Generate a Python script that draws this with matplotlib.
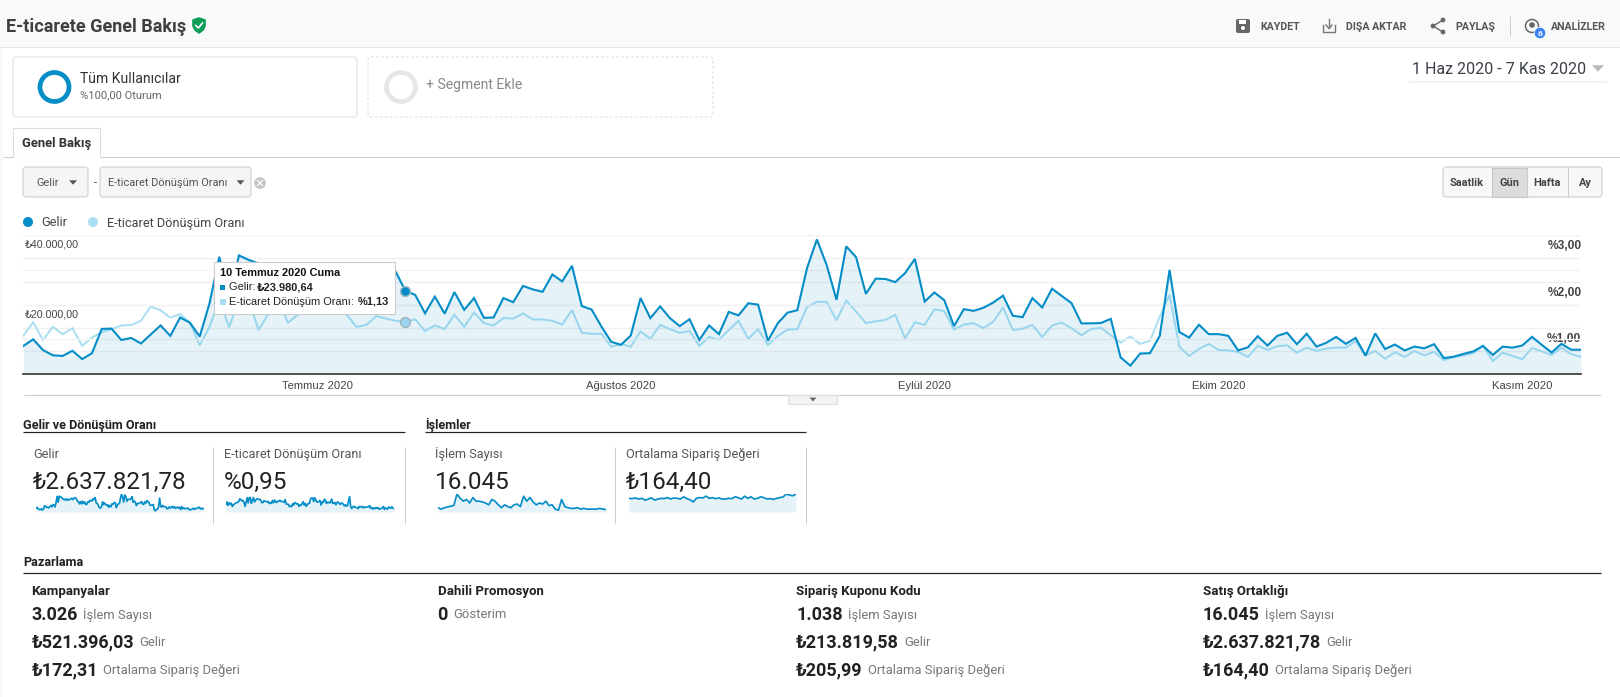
import numpy as np
import matplotlib
matplotlib.use('Agg')
import matplotlib.pyplot as plt
from matplotlib.patches import FancyBboxPatch, Rectangle, Circle, Polygon

plt.rcParams['font.family'] = ['Roboto', 'DejaVu Sans']

# daily values, 1 Jun - 7 Nov 2020
gelir = [8100, 10000, 6900, 5400, 5200, 6700, 4300, 6000, 13000, 13100,
         9800, 10400, 8800, 11400, 14000, 11000, 16300, 14800, 10800, 20400,
         33800, 21300, 34200, 32900, 31900, 29500, 27100, 26200, 28600, 25200,
         27600, 25700, 27100, 28600, 29500, 26600, 30000, 31000, 29500, 23980.64,
         22800, 17500, 22300, 17400, 23600, 18500, 21900, 16200, 16300, 21900,
         20700, 25400, 24400, 23700, 28700, 26700, 31200, 19600, 18600, 13700,
         9300, 8400, 11100, 21900, 16100, 19500, 16100, 13800, 15800, 9800,
         14000, 11500, 17900, 16900, 20400, 20000, 9600, 14600, 17700, 18400,
         30600, 38800, 31400, 21400, 36800, 33700, 23100, 27500, 27400, 26500,
         29100, 33200, 20900, 23500, 21300, 13800, 18700, 18200, 19100, 20600,
         22600, 16800, 16400, 21900, 19200, 24600, 22500, 20400, 14600, 14600,
         14700, 15900, 4800, 2400, 5900, 6000, 11000, 30000, 12100, 10500,
         14200, 11500, 11500, 11000, 6800, 7700, 10900, 8200, 11000, 11900,
         8600, 11600, 7900, 9000, 10700, 8700, 10400, 5300, 11700, 7200,
         8500, 6800, 7900, 7400, 8600, 4600, 5000, 5800, 6500, 8100,
         5500, 7900, 7600, 8200, 10700, 8400, 6200, 8700, 7000, 7000]

donusum = [.83, 1.12, .73, 1.02, .86, .99, .61, .79, .90, .97,
           1.05, 1.06, 1.15, 1.46, 1.38, 1.22, 1.30, 1.11, .62, 1.02,
           1.60, 1.01, 1.60, 1.60, .95, 1.30, 1.60, 1.11, 1.28, 1.46,
           1.46, 1.38, 1.42, 1.28, 1.02, 1.06, 1.25, 1.20, 1.15, 1.13,
           1.18, .93, 1.05, .97, 1.28, 1.02, 1.33, 1.10, 1.05, 1.21,
           1.20, 1.31, 1.18, 1.18, 1.15, 1.07, 1.38, .89, .87, .87,
           .59, .65, .59, .92, .76, 1.06, .97, .89, .93, .61,
           .80, .74, .95, 1.15, .76, .97, .63, .82, .96, .97,
           1.45, 1.56, 1.56, 1.16, 1.59, 1.35, 1.10, 1.14, 1.17, 1.28,
           .77, 1.12, 1.06, 1.40, 1.36, .96, 1.07, 1.10, .99, 1.13,
           1.44, .95, .98, 1.06, .80, 1.05, 1.11, .99, .84, .97,
           1.00, .84, .68, .81, .65, .72, 1.24, 1.71, .59, .39,
           .54, .65, .52, .51, .48, .37, .61, .52, .60, .62,
           .46, .57, .50, .55, .57, .57, .71, .40, .50, .33,
           .47, .37, .50, .40, .48, .30, .36, .40, .45, .61,
           .28, .46, .39, .32, .56, .49, .41, .57, .43, .37]

# sparklines, read every third day
islem_sayisi = [60, 40, 60, 70, 80, 90, 250, 190, 150, 175, 125, 200, 150, 150,
                140, 125, 100, 175, 150, 100, 60, 100, 75, 60, 100, 110, 75, 220,
                150, 200, 140, 100, 125, 110, 150, 90, 100, 40, 25, 175, 75, 60,
                50, 50, 60, 40, 50, 40, 40, 40, 40, 50, 40, 35]
siparis_degeri = [167, 163, 172, 158, 167, 145, 158, 172, 145, 158, 167, 163, 176, 158,
                  172, 167, 158, 185, 163, 150, 123, 167, 176, 172, 194, 167, 176, 163,
                  172, 158, 158, 167, 163, 185, 176, 158, 194, 167, 185, 158, 167, 185,
                  176, 158, 163, 154, 167, 176, 185, 220, 207, 198, 220]

ay_indeks = [30, 61, 92, 122, 153]
ay_etiket = ['Temmuz 2020', 'Ağustos 2020', 'Eylül 2020', 'Ekim 2020', 'Kasım 2020']

W, H = 1620, 697
MAVI = '#058dc7'
ACIK = '#aadff3'
ARIAL = ['Liberation Sans', 'DejaVu Sans']
ROBOTO = ['Roboto', 'DejaVu Sans']

def px(s):
    return s * 0.72

def kutu(x0, y0, x1, y1):
    return [x0 / W, 1 - y1 / H, (x1 - x0) / W, (y1 - y0) / H]

fig = plt.figure(figsize=(W / 100, H / 100), dpi=100, facecolor='white')

#%% main chart
ax = fig.add_axes(kutu(23.4, 235.3, 1581, 374))
gun = np.arange(len(gelir))
ax.plot(gun, donusum, color=ACIK, lw=px(2.0), solid_joinstyle='miter')
ax.scatter([39], [donusum[39]], s=50, color=ACIK, edgecolor='#b5b5b5', lw=1, zorder=5)
ax.set_xlim(0, len(gelir) - 1)
ax.set_ylim(0, 3)
ax.set_yticks([0, .5, 1, 1.5, 2, 2.5, 3])
ax.grid(axis='y', color='#f0f0f0', lw=1)
ax.set_axisbelow(True)
for s in ax.spines.values():
    s.set_visible(False)
for v, lab in [(3, '%3,00'), (2, '%2,00'), (1, '%1,00')]:
    ax.annotate(lab, (1, v), xycoords=ax.get_yaxis_transform(), xytext=(.3, -7.9),
                textcoords='offset points', ha='right', va='center',
                fontsize=px(12), weight='bold', color='#444444', family=ARIAL, zorder=6)

ax2 = ax.twinx()
# twinx hides its own x axis, so the month labels stay on ax
ax.set_xticks(ay_indeks)
ax.set_xticklabels(ay_etiket)
ax.tick_params(left=False, right=False, bottom=False, labelleft=False)
ax.tick_params(axis='x', pad=1.8, labelsize=px(11.2), labelcolor='#444444')
for t in ax.get_xticklabels():
    t.set_family(ARIAL)
ax2.fill_between(gun, gelir, color=MAVI, alpha=.10, lw=0)
ax2.plot(gun, gelir, color=MAVI, lw=px(2.1), solid_joinstyle='miter')
ax2.scatter([39], [gelir[39]], s=50, color=MAVI, edgecolor='#9fb7c4', lw=1, zorder=5)
ax2.set_ylim(0, 40000)
ax2.set_yticks([0, 10000, 20000, 30000, 40000])
ax2.grid(axis='y', color='#f3f3f3', lw=1)
ax2.set_axisbelow(True)
ax2.tick_params(left=False, right=False, labelright=False, labelleft=False)
for s in ax2.spines.values():
    s.set_visible(False)
ax2.spines['bottom'].set_visible(True)
ax2.spines['bottom'].set_color('#333333')
ax2.spines['bottom'].set_linewidth(1.2)
for v, lab in [(40000, '₺40.000,00'), (20000, '₺20.000,00')]:
    ax2.annotate(lab, (0, v), xycoords=ax2.get_yaxis_transform(), xytext=(1.2, -6.8),
                 textcoords='offset points', ha='left', va='center',
                 fontsize=px(10.8), color='#444444', family=ARIAL)

#%% sparklines
def sparkline(x0, x1, degerler, tepe):
    a = fig.add_axes(kutu(x0, 494, x1, 512))
    xs = np.arange(len(degerler))
    a.fill_between(xs, degerler, color=MAVI, alpha=.10, lw=0)
    a.plot(xs, degerler, color=MAVI, lw=px(1.7))
    a.set_xlim(0, len(degerler) - 1)
    a.set_ylim(0, tepe)
    a.axis('off')

sparkline(36, 204, gelir, 38800)
sparkline(226, 394, donusum, 2.0)
sparkline(438, 606, islem_sayisi, 250)
sparkline(629, 796, siparis_degeri, 220)

#%% page furniture in pixel coordinates
ui = fig.add_axes([0, 0, 1, 1], zorder=10)
ui.set_xlim(0, W)
ui.set_ylim(H, 0)
ui.axis('off')

def metin(x, y, s, boyut=12, renk='#444444', kalin='normal', ha='left', aile=ROBOTO):
    return ui.text(x, y, s, fontsize=px(boyut), color=renk, weight=kalin, ha=ha, va='center',
                   family=aile, zorder=12)

def cizgi(x0, y0, x1, y1, renk='#d9d9d9', kal=1.0, ls='-'):
    ui.plot([x0, x1], [y0, y1], color=renk, lw=kal * .72, ls=ls, solid_capstyle='butt', zorder=3)

def yuvarlak(x0, y0, x1, y1, fc='white', ec='#dddddd', r=3, ls='-', z=2):
    ui.add_patch(FancyBboxPatch((x0 + r, y0 + r), x1 - x0 - 2 * r, y1 - y0 - 2 * r,
                                boxstyle='round,pad=%g,rounding_size=%g' % (r, r),
                                fc=fc, ec=ec, lw=.8, ls=ls, zorder=z))

def ucgen(x, y, g=4, renk='#555555'):
    ui.add_patch(Polygon([(x - g, y - g * .55), (x + g, y - g * .55), (x, y + g * .55)],
                         fc=renk, ec='none', zorder=12))

# header
ui.add_patch(Rectangle((0, 0), W, 46.5, fc='#f8f9fa', ec='none', zorder=1))
ui.add_patch(Rectangle((0, 46), 3, H, fc='#f8f9fa', ec='none', zorder=1))
cizgi(0, 46.5, W, 46.5, '#e5e5e5')
metin(6, 26.5, 'E-ticarete Genel Bakış', 18, '#3f3f3f', 'bold')
ui.add_patch(Polygon([(193, 20), (199, 18), (205, 20), (205, 26), (203, 30), (199, 33), (195, 30), (193, 26)],
                     fc='#0f9d58', ec='#0f9d58', lw=1.2, joinstyle='round', zorder=3))
ui.plot([195.8, 198.3, 202.5], [25.5, 28, 23], color='white', lw=1.2, zorder=4)

# header actions
ui.add_patch(FancyBboxPatch((1237, 20), 12, 12, boxstyle='round,pad=1,rounding_size=2',
                            fc='#666666', ec='none', zorder=3))
ui.add_patch(Rectangle((1239, 20), 7, 3.5, fc='white', ec='none', zorder=4))
ui.add_patch(Circle((1243, 28), 2, fc='white', ec='none', zorder=4))
metin(1260, 26.5, 'KAYDET', 10.6, '#555555', 'bold')
ui.plot([1323, 1323, 1335, 1335], [25, 32, 32, 25], color='#777777', lw=1, zorder=3)
ui.plot([1329, 1329], [19, 28], color='#777777', lw=1, zorder=3)
ui.plot([1326, 1329, 1332], [25, 28.5, 25], color='#777777', lw=1, zorder=3)
metin(1346, 26.5, 'DIŞA AKTAR', 10.6, '#555555', 'bold')
ui.plot([1443, 1433, 1443], [20, 26, 32], color='#666666', lw=1, zorder=3)
for cx, cy in [(1443, 20), (1433, 26), (1443, 32)]:
    ui.add_patch(Circle((cx, cy), 2.4, fc='#666666', ec='none', zorder=4))
metin(1455, 26.5, 'PAYLAŞ', 10.6, '#555555', 'bold')
cizgi(1510, 16, 1510, 36, '#cccccc')
ui.add_patch(Circle((1532, 26), 6.5, fc='none', ec='#666666', lw=1.1, zorder=3))
ui.add_patch(Circle((1532, 25), 2.8, fc='#666666', ec='none', zorder=3))
ui.add_patch(Circle((1540, 33), 5.8, fc='#3b82f0', ec='white', lw=.6, zorder=4))
metin(1540, 33.5, '6', 8.5, 'white', 'bold', 'center')
metin(1551, 26.5, 'ANALİZLER', 10.6, '#555555', 'bold')

# segments
yuvarlak(13, 57, 357, 117, ec='#e0e0e0')
ui.add_patch(Circle((54.5, 87), 14.5, fc='none', ec='#058dc7', lw=3.4, zorder=3))
metin(80, 79, 'Tüm Kullanıcılar', 14, '#333333')
metin(80, 95.5, '%100,00 Oturum', 11.2, '#666666')
yuvarlak(368, 57, 713, 117, ec='#e0e0e0', ls=(0, (2.5, 2)))
ui.add_patch(Circle((401, 87), 14.5, fc='none', ec='#e6e6e6', lw=3.4, zorder=3))
metin(426, 85, '+ Segment Ekle', 14, '#888888')

metin(1412, 70, '1 Haz 2020 - 7 Kas 2020', 16, '#3a3f4a')
ucgen(1598, 68.5, 6, '#bbbbbb')
cizgi(1409, 82, 1607, 82, '#eeeeee', 1.5)

# tab
cizgi(3, 156.5, W, 156.5, '#cccccc')
ui.add_patch(Rectangle((13, 128), 87, 29, fc='white', ec='#dddddd', lw=.8, zorder=4))
ui.add_patch(Rectangle((13.5, 155), 86, 3, fc='white', ec='none', zorder=5))
metin(57, 144, 'Genel Bakış', 13, '#333333', 'bold', 'center')

# dropdowns
yuvarlak(23, 167, 88, 197, '#f5f5f5', '#cfcfcf')
metin(36, 183.5, 'Gelir', 11, '#555555')
ucgen(73, 182.5)
metin(95, 183, '-', 11, '#444444', ha='center')
yuvarlak(100, 167, 251, 197, '#f5f5f5', '#cfcfcf')
metin(108.5, 183.5, 'E-ticaret Dönüşüm Oranı', 11, '#555555')
ucgen(240.5, 182.5)
ui.add_patch(Circle((260, 183), 5.8, fc='#c4c4c4', ec='none', zorder=3))
ui.plot([257.5, 262.5], [180.5, 185.5], color='white', lw=.9, zorder=4)
ui.plot([257.5, 262.5], [185.5, 180.5], color='white', lw=.9, zorder=4)

# period buttons
yuvarlak(1443, 167, 1602, 197, '#f8f8f8', '#cccccc')
ui.add_patch(Rectangle((1492, 167.5), 35, 29, fc='#dcdcdc', ec='#c6c6c6', lw=.8, zorder=3))
cizgi(1568, 167.5, 1568, 196.5, '#cccccc')
cizgi(1527, 167.5, 1527, 196.5, '#cccccc')
for cx, lab in [(1467, 'Saatlik'), (1509, 'Gün'), (1547, 'Hafta'), (1585, 'Ay')]:
    metin(cx, 183, lab, 11, '#444444', 'bold', 'center')

# legend
ui.add_patch(Circle((28, 222), 5, fc=MAVI, ec='none'))
metin(41, 223, 'Gelir', 12.8, '#444444')
ui.add_patch(Circle((93, 222), 5, fc=ACIK, ec='none'))
metin(107, 223, 'E-ticaret Dönüşüm Oranı', 12.8, '#444444')

# tooltip
ui.add_patch(Rectangle((214.5, 263), 181, 52, fc='#d0d0d0', ec='none', alpha=.5, zorder=9))
ui.add_patch(Rectangle((213.5, 262), 181, 52, fc='white', ec='#cccccc', lw=.8, zorder=10))
metin(220, 273, '10 Temmuz 2020 Cuma', 11, '#111111', 'bold', aile=ARIAL)
ui.add_patch(Rectangle((219.5, 284.5), 5, 5, fc=MAVI, ec='none', zorder=11))
metin(229, 287, 'Gelir: ', 11, '#222222', aile=ARIAL)
metin(257, 287, '₺23.980,64', 11, '#222222', 'bold', aile=ARIAL)
ui.add_patch(Rectangle((219.5, 298.5), 6, 6, fc=ACIK, ec='none', zorder=11))
metin(229, 302, 'E-ticaret Dönüşüm Oranı: ', 11, '#222222', aile=ARIAL)
metin(357.5, 302, '%1,13', 11, '#222222', 'bold', aile=ARIAL)

# chart bottom rule and handle
cizgi(24, 395, 1601, 395, '#cfcfcf', 1.2)
ui.add_patch(Rectangle((788, 395), 49, 9, fc='#f3f3f3', ec='#dddddd', lw=.8, zorder=3))
ucgen(813, 399.5, 3.5, '#666666')

# scorecards
metin(23, 425, 'Gelir ve Dönüşüm Oranı', 12.6, '#222222', 'bold')
cizgi(23, 431.5, 405, 431.5, '#222222', 1.2)
metin(425, 425, 'İşlemler', 12.6, '#222222', 'bold')
cizgi(425, 431.5, 806, 431.5, '#222222', 1.2)
for x in [213, 405, 615, 806]:
    cizgi(x, 447, x, 523, '#cccccc')
for x, lab, deger in [(33.5, 'Gelir', '₺2.637.821,78'), (224.5, 'E-ticaret Dönüşüm Oranı', '%0,95'),
                      (435, 'İşlem Sayısı', '16.045'), (626.5, 'Ortalama Sipariş Değeri', '₺164,40')]:
    metin(x, 454.5, lab, 12.8, '#555555')
    metin(x - .5, 482.5, deger, 24.2, '#222222')

# marketing block
metin(23, 563, 'Pazarlama', 12.6, '#222222', 'bold')
cizgi(23, 572.5, 1601, 572.5, '#222222', 1.2)

def satir(x, y, deger, lab):
    t = metin(x, y, deger, 18, '#222222', 'bold')
    uc = t.get_window_extent(fig.canvas.get_renderer()).x1
    metin(uc + 5, y + .5, lab, 13, '#777777')

sutunlar = [(31.5, 'Kampanyalar', [('3.026', 'İşlem Sayısı'), ('₺521.396,03', 'Gelir'), ('₺172,31', 'Ortalama Sipariş Değeri')]),
            (437.5, 'Dahili Promosyon', [('0', 'Gösterim')]),
            (796, 'Sipariş Kuponu Kodu', [('1.038', 'İşlem Sayısı'), ('₺213.819,58', 'Gelir'), ('₺205,99', 'Ortalama Sipariş Değeri')]),
            (1203, 'Satış Ortaklığı', [('16.045', 'İşlem Sayısı'), ('₺2.637.821,78', 'Gelir'), ('₺164,40', 'Ortalama Sipariş Değeri')])]
for x, baslik, satirlar in sutunlar:
    metin(x, 592, baslik, 13.3, '#222222', 'bold')
    for y, (deger, lab) in zip([614.5, 642, 670], satirlar):
        satir(x, y, deger, lab)

plt.savefig('out.png', dpi=100)
